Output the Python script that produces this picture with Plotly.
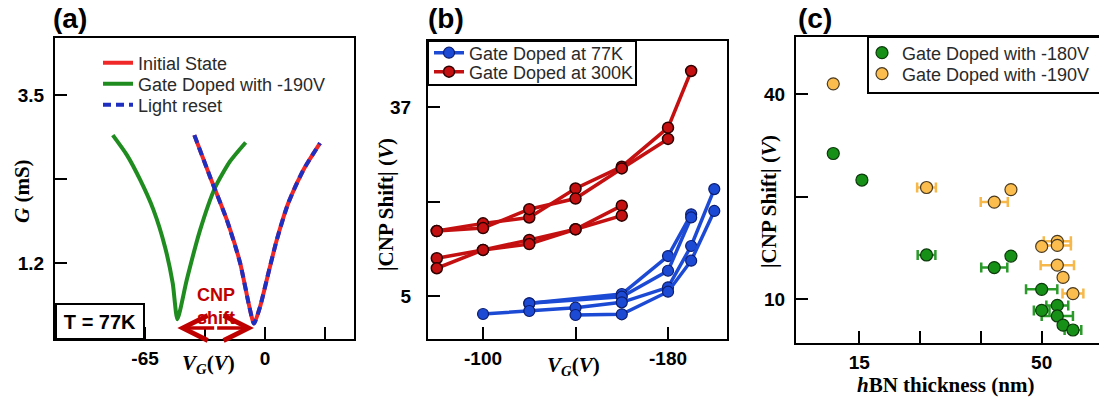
import plotly.graph_objects as go

W, H = 1099, 402

# ---------------- (a) conductance vs gate voltage at 77 K ----------------
vg_initial = [-38.3, -29.8, -20.7, -13.5, -8.5, -6.0, -2.7, 1.8, 6.3, 12.6, 20.7, 29.8]
g_initial = [2.95, 2.38, 1.79, 1.20, 0.60, 0.37, 0.60, 1.06, 1.51, 2.02, 2.47, 2.84]
vg_doped = [-82.5, -74.9, -67.7, -60.5, -54.2, -50.0, -47.5, -42.4, -35.2, -27.1, -19.0, -10.5]
g_doped = [2.95, 2.68, 2.34, 1.93, 1.42, 0.92, 0.43, 0.97, 1.65, 2.23, 2.59, 2.85]
vg_reset = vg_initial
g_reset = g_initial

# ---------------- (b) |CNP shift| vs doping gate voltage ----------------
vg_300k = [
    [-80, -100, -120, -140, -160, -180, -190],
    [-80, -100, -120, -140, -160, -180],
    [-80, -100, -120, -140, -160],
    [-80, -100, -120, -140, -160],
]
shift_300k = [
    [16.0, 17.3, 18.3, 23.2, 26.9, 33.5, 43.1],
    [16.0, 16.5, 19.7, 21.5, 26.6, 31.6],
    [11.4, 12.8, 14.5, 16.3, 20.3],
    [9.7, 12.8, 13.8, 16.3, 18.6],
]
vg_77k = [
    [-120, -160, -180, -190],
    [-120, -160, -180, -190],
    [-100, -120, -140, -160, -180, -190, -200],
    [-140, -160, -180, -190, -200],
]
shift_77k = [
    [3.76, 5.34, 11.77, 18.83],
    [3.76, 4.88, 9.28, 18.3],
    [1.95, 2.46, 3.02, 3.93, 6.47, 13.47, 23.1],
    [1.78, 1.90, 5.73, 10.98, 19.4],
]

# ---------------- (c) |CNP shift| vs hBN thickness ----------------
t_180 = [10.0, 15.5, 27.9, 44.1, 40.9, 50.0, 50.0, 53.0, 53.0, 54.1, 56.0]
shift_180 = [26.8, 22.4, 13.5, 13.4, 12.4, 10.7, 9.28, 9.6, 8.94, 8.4, 8.13]
terr_180 = [0, 0, 1.7, 0, 2.5, 3.0, 1.5, 2.1, 3.0, 0, 1.6]
t_190 = [10.0, 27.9, 44.1, 40.9, 50.0, 53.0, 53.0, 53.0, 54.1, 56.0]
shift_190 = [42.9, 21.3, 21.0, 19.3, 14.3, 14.8, 14.4, 12.6, 11.6, 10.4]
terr_190 = [0, 1.8, 0, 2.6, 0, 2.6, 2.6, 3.2, 0, 2.0]

# tick labels
a_xticks, a_xlabels = [-65, -32.5, 0, 32.5], ["-65", "", "0", ""]
a_yticks, a_ylabels = [1.2, 2.35, 3.5], ["1.2", "", "3.5"]
b_xticks, b_xlabels = [-100, -140, -180], ["-100", "", "-180"]
b_yticks, b_ylabels = [5, 21, 37], ["5", "", "37"]
c_xticks, c_xlabels = [15, 26.67, 38.33, 50], ["15", "", "", "50"]
c_yticks, c_ylabels = [10, 20, 40], ["10", "", "40"]

SANS = "Liberation Sans, Arial, sans-serif"
SERIF = "Liberation Serif, Times New Roman, serif"

RED_A, GREEN_A, BLUE_A = "#f02828", "#1f8c1f", "#1f2fc0"
RED_B, BLUE_B = "#c41010", "#1c4ad4"
GREEN_C, ORANGE_C = "#179017", "#fbbd4e"

fig = go.Figure()

# (a) curves
fig.add_trace(go.Scatter(x=vg_initial, y=g_initial, mode="lines", name="Initial State",
                         line=dict(color=RED_A, width=4, shape="spline", smoothing=0.6),
                         xaxis="x", yaxis="y", legend="legend"))
fig.add_trace(go.Scatter(x=vg_doped, y=g_doped, mode="lines", name="Gate Doped with -190V",
                         line=dict(color=GREEN_A, width=4, shape="spline", smoothing=0.6),
                         xaxis="x", yaxis="y", legend="legend2"))
fig.add_trace(go.Scatter(x=vg_reset, y=g_reset, mode="lines", name="Light reset",
                         line=dict(color=BLUE_A, width=4, dash="8px,5px", shape="spline", smoothing=0.6),
                         xaxis="x", yaxis="y", legend="legend3"))

# (b) doping series
for i, (xs, ys) in enumerate(zip(vg_300k, shift_300k)):
    fig.add_trace(go.Scatter(x=xs, y=ys, mode="lines+markers", name="Gate Doped at 300K",
                             line=dict(color=RED_B, width=3.5),
                             marker=dict(size=11, color=RED_B, line=dict(color="#300000", width=1.5)),
                             showlegend=(i == 0), xaxis="x2", yaxis="y2", legend="legend5"))
for i, (xs, ys) in enumerate(zip(vg_77k, shift_77k)):
    fig.add_trace(go.Scatter(x=xs, y=ys, mode="lines+markers", name="Gate Doped at 77K",
                             line=dict(color=BLUE_B, width=3.5),
                             marker=dict(size=11, color=BLUE_B, line=dict(color="#0b1d70", width=1.2)),
                             showlegend=(i == 0), xaxis="x2", yaxis="y2", legend="legend4"))

# (c) thickness dependence
fig.add_trace(go.Scatter(x=t_180, y=shift_180, mode="markers", name="Gate Doped with -180V",
                         marker=dict(size=12, color=GREEN_C, line=dict(color="#0b3a0b", width=1.2)),
                         error_x=dict(type="data", array=terr_180, color="#2a9a2a", thickness=2.5, width=5),
                         xaxis="x3", yaxis="y3", legend="legend6"))
fig.add_trace(go.Scatter(x=t_190, y=shift_190, mode="markers", name="Gate Doped with -190V",
                         marker=dict(size=12, color=ORANGE_C, line=dict(color="#4a3a20", width=1.2)),
                         error_x=dict(type="data", array=terr_190, color="#f6b84a", thickness=2.5, width=5),
                         xaxis="x3", yaxis="y3", legend="legend7"))

tickfont = dict(family=SANS, size=19, color="black", weight="bold")
axis_common = dict(showline=True, linecolor="black", linewidth=2, ticks="inside", ticklen=12,
                   tickwidth=2, tickcolor="black", showgrid=False, zeroline=False,
                   tickfont=tickfont)


def px_x(p):
    return p / W


def px_y(p):
    return 1 - p / H


fig.update_layout(
    width=W, height=H, margin=dict(l=0, r=0, t=0, b=0, autoexpand=False),
    paper_bgcolor="white", plot_bgcolor="white",
    xaxis=dict(domain=[px_x(55), px_x(354)], range=[-113.8, 48.2], mirror=True,
               tickvals=a_xticks, ticktext=a_xlabels, anchor="y", ticklabelstandoff=1, **axis_common),
    yaxis=dict(domain=[px_y(339), px_y(38)], range=[0.159, 4.28], mirror=True,
               tickvals=a_yticks, ticktext=a_ylabels, anchor="x", ticklabelstandoff=5, **axis_common),
    xaxis2=dict(domain=[px_x(428), px_x(727)], range=[-76.2, -205.5], mirror=True,
                tickvals=b_xticks, ticktext=b_xlabels, anchor="y2", ticklabelstandoff=1, **axis_common),
    yaxis2=dict(domain=[px_y(339), px_y(41)], range=[-2.28, 48.18], mirror=True,
                tickvals=b_yticks, ticktext=b_ylabels, anchor="x2", ticklabelstandoff=11, **axis_common),
    xaxis3=dict(domain=[px_x(796), 1.0], range=[2.85, 61.0], mirror=True,
                tickvals=c_xticks, ticktext=c_xlabels, anchor="y3", ticklabelstandoff=1, **axis_common),
    yaxis3=dict(domain=[px_y(343), px_y(37)], type="log", range=[0.872, 1.770], mirror=False,
                tickvals=c_yticks, ticktext=c_ylabels, anchor="x3", ticklabelstandoff=5, **axis_common),
    showlegend=True,
)

legend_font = dict(family=SANS, size=18, color="#2a2a2a")


def legend_at(xp, yp):
    return dict(x=px_x(xp), y=px_y(yp), xanchor="left", yanchor="middle", bgcolor="rgba(0,0,0,0)",
                borderwidth=0, font=legend_font, itemclick=False, itemdoubleclick=False)


fig.update_layout(
    legend=legend_at(98, 63), legend2=legend_at(98, 84), legend3=legend_at(98, 105),
    legend4=legend_at(429, 53), legend5=legend_at(429, 72),
    legend6=legend_at(862, 53), legend7=legend_at(862, 74),
)

# legend frames of (b) and (c)
fig.add_shape(type="rect", xref="paper", yref="paper", x0=px_x(428), x1=px_x(636),
              y0=px_y(85), y1=px_y(41), line=dict(color="black", width=2), fillcolor="white", layer="above")
fig.add_shape(type="rect", xref="paper", yref="paper", x0=px_x(868), x1=1.02,
              y0=px_y(93), y1=px_y(37), line=dict(color="black", width=2), fillcolor="white", layer="above")

title_font = dict(family=SERIF, size=21, color="black", weight="bold")
panel_font = dict(family=SANS, size=28, color="black", weight="bold")
annotations = [
    dict(text="(a)", x=px_x(51), y=px_y(19), xanchor="left", font=panel_font),
    dict(text="(b)", x=px_x(426), y=px_y(19), xanchor="left", font=panel_font),
    dict(text="(c)", x=px_x(796), y=px_y(19), xanchor="left", font=panel_font),
    dict(text="<i>G</i> (mS)", x=px_x(22), y=px_y(191), textangle=-90, font=title_font),
    dict(text="<i>V</i><sub><i>G</i></sub>(<i>V</i>)", x=px_x(208), y=px_y(364), font=title_font),
    dict(text="|CNP Shift| (<i>V</i>)", x=px_x(386), y=px_y(205), textangle=-90, font=title_font),
    dict(text="<i>V</i><sub><i>G</i></sub>(<i>V</i>)", x=px_x(573), y=px_y(366), font=title_font),
    dict(text="|CNP Shift| (<i>V</i>)", x=px_x(769), y=px_y(202), textangle=-90, font=title_font),
    dict(text="<i>h</i>BN thickness (nm)", x=px_x(945), y=px_y(385), font=title_font),
    dict(text="T = 77K", x=px_x(55), y=px_y(340), xanchor="left", yanchor="bottom",
         width=84, height=31, borderpad=1, bordercolor="black", borderwidth=2, bgcolor="white",
         font=dict(family=SANS, size=20, color="black", weight="bold")),
]
for a in annotations:
    a.setdefault("xref", "paper")
    a.setdefault("yref", "paper")
    a.setdefault("xanchor", "center")
    a.setdefault("yanchor", "middle")
    a.setdefault("showarrow", False)

# CNP shift double arrow between the two minima
i_min_d = g_doped.index(min(g_doped))
i_min_i = g_initial.index(min(g_initial))
x_left, x_right = vg_doped[i_min_d], vg_initial[i_min_i]
x_mid = 0.5 * (x_left + x_right)
y_arrow = 0.31
for xe in (x_left, x_right):
    annotations.append(dict(x=xe, y=y_arrow, ax=x_mid, ay=y_arrow, xref="x", yref="y",
                            axref="x", ayref="y", text="", showarrow=True, arrowhead=5,
                            arrowsize=1.4, arrowwidth=3.5, arrowcolor="#c00000"))
annotations.append(dict(text="CNP<br>shift", x=x_mid, y=0.61, xref="x", yref="y", showarrow=False,
                        xanchor="center", yanchor="middle",
                        font=dict(family=SANS, size=18, color="#c00000", weight="bold")))

fig.update_layout(annotations=annotations)

fig.write_html("out.html")
